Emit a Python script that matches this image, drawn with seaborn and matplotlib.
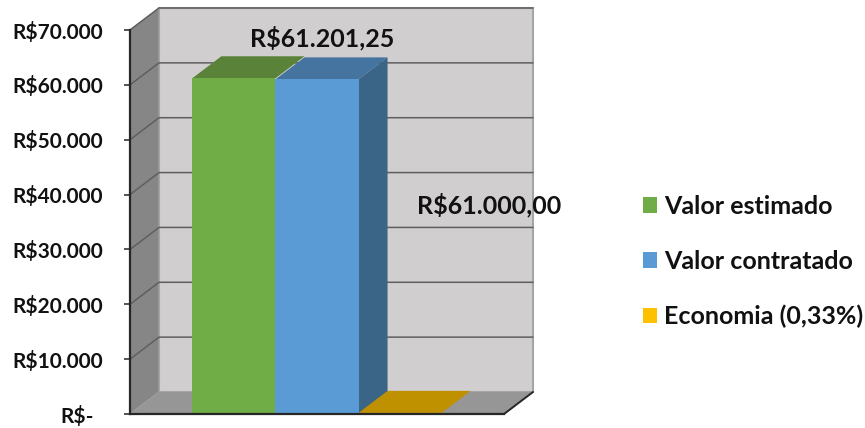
import matplotlib
matplotlib.use("Agg")
import matplotlib.pyplot as plt
from matplotlib.patches import Polygon, Patch
from matplotlib.transforms import ScaledTranslation
import pandas as pd
import seaborn as sns

series = ["Valor estimado", "Valor contratado", "Economia (0,33%)"]
values = [61201.25, 61000.00, 201.25]
ticks = [0, 10000, 20000, 30000, 40000, 50000, 60000, 70000]
tick_labels = ["R$-", "R$10.000", "R$20.000", "R$30.000", "R$40.000", "R$50.000", "R$60.000", "R$70.000"]
label_texts = ["R$61.201,25", "R$61.000,00"]
front = ["#70AD47", "#5B9BD5", "#FFC000"]
top = ["#5A8238", "#44749F", "#BF9000"]
side = ["#4F7332", "#3A6587", "#A67C00"]

sns.set_theme(style="white")
plt.rcParams["font.family"] = ["Lato", "DejaVu Sans"]
plt.rcParams["font.weight"] = "bold"

W, H = 865, 428
fig = plt.figure(figsize=(W / 100, H / 100), dpi=100)
ax = fig.add_axes([130 / W, 1 - 414 / H, 374 / W, 384 / H])

df = pd.DataFrame({"cat": [""] * 3, "serie": series, "valor": values})
sns.barplot(data=df, x="cat", y="valor", hue="serie", hue_order=series, palette=front,
            saturation=1, width=0.8, gap=0, dodge=True, ax=ax, legend=False, zorder=4,
            linewidth=0, edgecolor="none")
ax.set_xlim(-0.6, 0.6)
ax.set_ylim(0, 70000)
ax.set_xlabel("")
ax.set_ylabel("")
ax.set_xticks([])

dx = 29 / 374 * 1.2   # depth offset in data units
dy = 22 / 384 * 70000
x0, x1 = -0.6, 0.6
y1 = 70000


def poly(pts, color, z, ec="none", lw=0):
    ax.add_patch(Polygon(pts, closed=True, facecolor=color, edgecolor=ec, linewidth=lw,
                         zorder=z, clip_on=False))


# walls and floor
poly([(x0 + dx, dy), (x1 + dx, dy), (x1 + dx, y1 + dy), (x0 + dx, y1 + dy)], "#D0CECE", 1, "#A5A5A5", 1.5)
poly([(x0, 0), (x0 + dx, dy), (x0 + dx, y1 + dy), (x0, y1)], "#868686", 1.2, "#A5A5A5", 0.8)
poly([(x0, 0), (x1, 0), (x1 + dx, dy), (x0 + dx, dy)], "#969696", 1.4)

# gridlines on side and back wall
for t in ticks[1:]:
    ax.plot([x0, x0 + dx, x1 + dx], [t, t + dy, t + dy], color="#5F5F5F", lw=1.1, zorder=1.6,
            clip_on=False, solid_joinstyle="miter")
ax.plot([x1, x1 + dx], [0, dy], color="#262626", lw=1.4, zorder=2, clip_on=False)

# depth faces of each bar, taken from the bars seaborn drew
bars = [p for c in ax.containers for p in c]
for i, b in enumerate(bars):
    l, r, h = b.get_x(), b.get_x() + b.get_width(), b.get_height()
    poly([(l, h), (r, h), (r + dx, h + dy), (l + dx, h + dy)], top[i], 3)
    if i == 1:
        poly([(r, 0), (r + dx, dy), (r + dx, h + dy), (r, h)], side[i], 3)
    b.set_zorder(4)

ax.set_yticks(ticks)
ax.set_yticklabels(tick_labels, fontsize=15, fontweight="bold", color="#111111")
ax.tick_params(axis="y", left=True, length=4.5, width=1.1, color="#262626", pad=15)
ax.get_yticklabels()[0].set_transform(
    ax.get_yticklabels()[0].get_transform() + ScaledTranslation(-9 / 100, 0, fig.dpi_scale_trans))

for s in ["top", "right"]:
    ax.spines[s].set_visible(False)
for s in ["left", "bottom"]:
    ax.spines[s].set_visible(True)
    ax.spines[s].set_color("#262626")
    ax.spines[s].set_linewidth(1.6)
    ax.spines[s].set_zorder(5)

ax.text(0.017, 68500, label_texts[0], ha="center", va="center", fontsize=18, fontweight="bold",
        color="#111111", zorder=6, clip_on=False)
ax.text(0.552, 38100, label_texts[1], ha="center", va="center", fontsize=18, fontweight="bold",
        color="#111111", zorder=6, clip_on=False)

handles = [Patch(facecolor=c, edgecolor="none", label=n) for c, n in zip(front, series)]
fig.legend(handles=handles, loc="center left", bbox_to_anchor=(643 / W, 1 - 261.5 / H), frameon=False,
           prop={"size": 18, "weight": "bold"}, labelcolor="#111111", labelspacing=1.28,
           handlelength=0.56, handleheight=0.56, handletextpad=0.28, borderpad=0, borderaxespad=0)

fig.savefig("out.png", dpi=100, facecolor="white")
